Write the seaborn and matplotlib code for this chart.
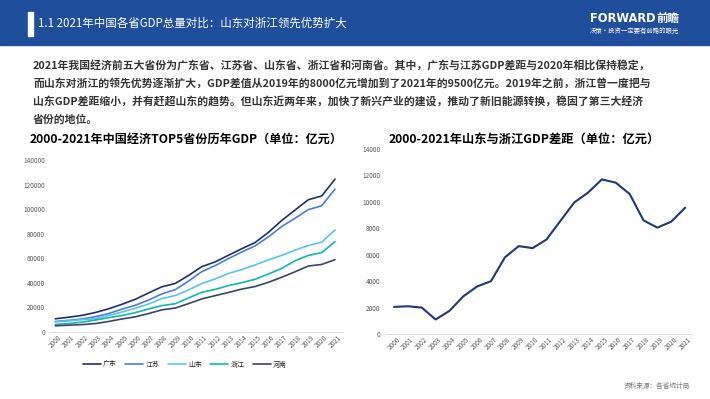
import pandas as pd
import matplotlib.pyplot as plt
import seaborn as sns

years = list(range(2000, 2022))
guangdong = [10741, 12039, 13502, 15845, 18865, 22557, 26588, 31777, 36797, 39483, 46013,
             53210, 57068, 62475, 67810, 72813, 81100, 90800, 99300, 107671, 110761, 124370]
jiangsu = [8554, 9457, 10607, 12443, 15004, 18599, 21742, 26018, 30982, 34457, 41425,
           49110, 54058, 59753, 65088, 70116, 77388, 85870, 92595, 99632, 102719, 116364]
shandong = [8190, 9000, 10000, 10800, 13400, 16270, 19320, 22750, 27260, 29640, 34220,
            39470, 43215, 47700, 50870, 54590, 58700, 62370, 66600, 70400, 73110, 83070]
zhejiang = [6141, 6898, 8004, 9705, 11649, 13418, 15718, 18754, 21463, 22990, 27722,
            32319, 34665, 37757, 40173, 42886, 47251, 51768, 58003, 62352, 64613, 73516]
henan = [5053, 5533, 6035, 6868, 8554, 10587, 12362, 15012, 18019, 19480, 23092,
         26931, 29599, 32191, 34938, 37002, 40472, 44553, 49000, 53718, 54997, 58887]
provinces = ['广东', '江苏', '山东', '浙江', '河南']
colors = ['#1f2f6e', '#4a7fd4', '#5cc3ec', '#17b3ad', '#3d4566']
gap = [2050, 2100, 2000, 1100, 1750, 2850, 3600, 4000, 5800, 6650, 6500,
       7150, 8550, 9950, 10700, 11700, 11450, 10600, 8600, 8050, 8500, 9550]

header = '1.1 2021年中国各省GDP总量对比：山东对浙江领先优势扩大'
para = ['2021年我国经济前五大省份为广东省、江苏省、山东省、浙江省和河南省。其中，广东与江苏GDP差距与2020年相比保持稳定，',
        '而山东对浙江的领先优势逐渐扩大，GDP差值从2019年的8000亿元增加到了2021年的9500亿元。2019年之前，浙江曾一度把与',
        '山东GDP差距缩小，并有赶超山东的趋势。但山东近两年来，加快了新兴产业的建设，推动了新旧能源转换，稳固了第三大经济',
        '省份的地位。']
title_left = '2000-2021年中国经济TOP5省份历年GDP（单位：亿元）'
title_right = '2000-2021年山东与浙江GDP差距（单位：亿元）'
source = '资料来源：各省统计局'

W, H = 710, 399


def px(x, y):
    return x / W, 1 - y / H


def style_axes(ax):
    for s in ['top', 'right', 'left']:
        ax.spines[s].set_visible(False)
    ax.spines['bottom'].set_color('#d9d9d9')
    ax.spines['bottom'].set_linewidth(0.6)
    ax.set_xticks(years)
    ax.set_xticklabels([str(y) for y in years], rotation=45, fontsize=4.6, color='#595959')
    ax.tick_params(axis='y', labelsize=4.6, labelcolor='#595959', length=0)
    ax.tick_params(axis='x', length=0, pad=1)
    ax.set_xlabel('')
    ax.set_ylabel('')
    ax.grid(False)


def main():
    sns.set_style('white')
    plt.rcParams['font.family'] = ['Noto Sans CJK SC', 'DejaVu Sans']
    fig = plt.figure(figsize=(W / 100, H / 100), dpi=100)

    # header band
    fig.patches.append(plt.Rectangle(px(0, 45), 1, 45 / H, transform=fig.transFigure,
                                     color='#1f4e9c', zorder=0))
    fig.patches.append(plt.Rectangle(px(28, 36), 5 / W, 24 / H, transform=fig.transFigure,
                                     color='white', zorder=1))
    fig.text(*px(38, 23), header, color='white', fontsize=8.3, va='center', ha='left')
    fig.text(*px(590, 18), 'FORWARD', color='white', fontsize=8.3, fontweight='bold',
             va='center', ha='left', family=['DejaVu Sans'])
    fig.text(*px(656, 18), '前瞻', color='white', fontsize=8.3, fontweight='bold', va='center', ha='left')
    fig.text(*px(590, 31), '决策·投资一定要有前瞻的眼光', color='white', fontsize=4.6, va='center', ha='left')

    for i, line in enumerate(para):
        fig.text(*px(33, 66 + i * 17.8), line, color='#333333', fontsize=7.8,
                 fontweight='bold', va='center', ha='left')

    fig.text(*px(30, 139), title_left, color='black', fontsize=8.7, fontweight='bold', va='center', ha='left')
    fig.text(*px(389, 139), title_right, color='black', fontsize=8.8, fontweight='bold', va='center', ha='left')
    fig.text(*px(690, 386), source, color='#777777', fontsize=4.8, va='center', ha='right')

    # left chart
    df = pd.DataFrame({'year': years * 5,
                       'gdp': guangdong + jiangsu + shandong + zhejiang + henan,
                       'prov': sum([[p] * len(years) for p in provinces], [])})
    l, t = px(50, 160)
    r, b = px(343, 332)
    ax1 = fig.add_axes([l, b, r - l, t - b])
    sns.lineplot(data=df, x='year', y='gdp', hue='prov', hue_order=provinces,
                 palette=colors, linewidth=1.2, ax=ax1)
    ax1.set_ylim(0, 140000)
    ax1.set_yticks(range(0, 140001, 20000))
    ax1.set_xlim(1999.6, 2021.6)
    style_axes(ax1)
    ax1.legend(loc='upper center', bbox_to_anchor=(0.46, -0.13), ncol=5, frameon=False,
               fontsize=5, handlelength=2.6, columnspacing=1.2, handletextpad=0.3)

    # right chart
    l, t = px(385, 149)
    r, b = px(692, 334)
    ax2 = fig.add_axes([l, b, r - l, t - b])
    sns.lineplot(x=years, y=gap, color='#1f3877', linewidth=1.5, ax=ax2)
    ax2.set_ylim(0, 14000)
    ax2.set_yticks(range(0, 14001, 2000))
    ax2.set_xlim(1999.35, 2021.5)
    style_axes(ax2)

    fig.savefig('out.png', dpi=100)
    print('I created a figure!')


if __name__ == '__main__':
    main()
